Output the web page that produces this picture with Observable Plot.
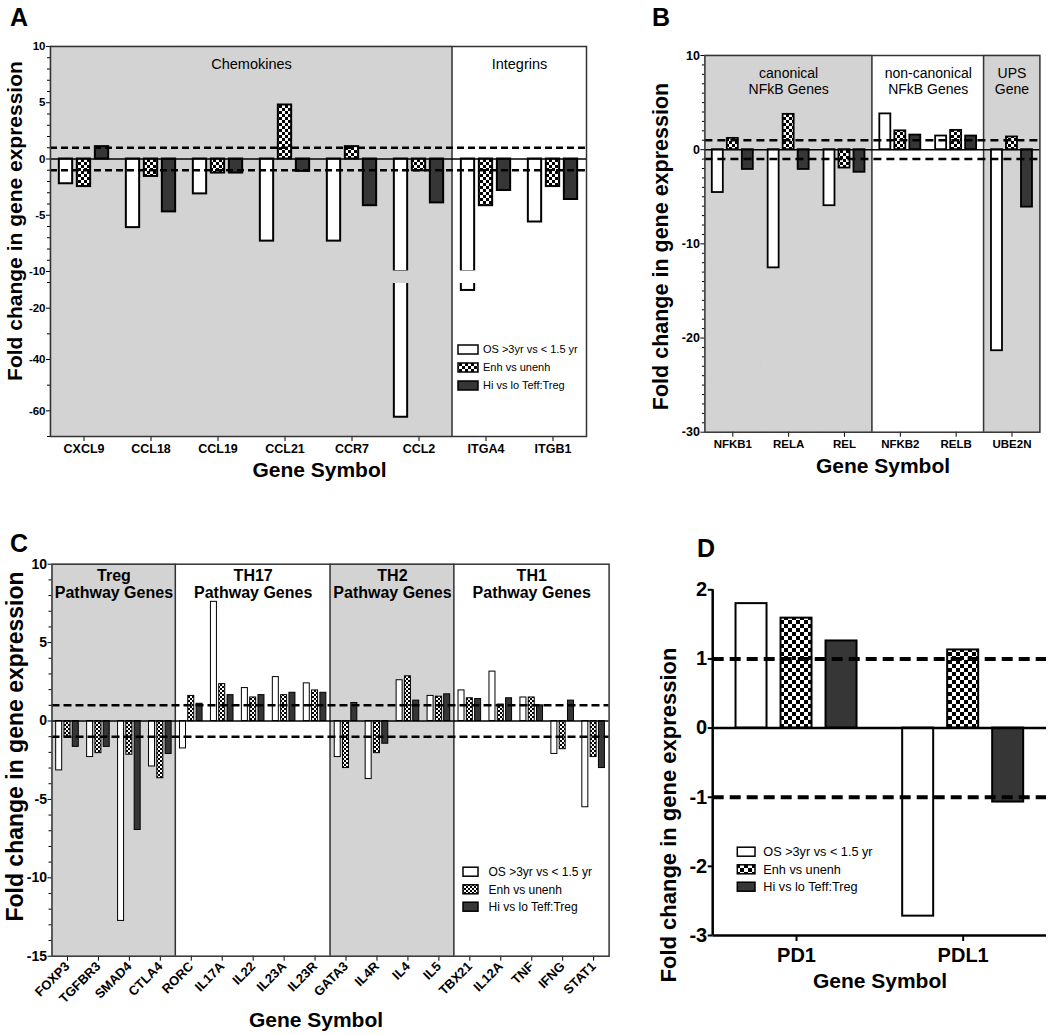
<!DOCTYPE html>
<html><head><meta charset="utf-8">
<script src="https://cdn.jsdelivr.net/npm/d3@7"></script>
<script src="https://cdn.jsdelivr.net/npm/@observablehq/plot@0.6"></script>
<style>
body{margin:0;background:#fff;}
#root{position:relative;width:1050px;height:1035px;overflow:hidden;background:#fff;}
</style></head><body><div id="root"></div>
<script>
// ---------------- DATA ----------------
const seriesNames = ["OS >3yr vs < 1.5 yr", "Enh vs unenh", "Hi vs lo Teff:Treg"];

// Panel A
const genesA = ["CXCL9","CCL18","CCL19","CCL21","CCR7","CCL2","ITGA4","ITGB1"];
const osA   = [-2.2, -6.1, -3.1, -7.3, -7.3, -62.5, -13.1, -5.6];
const enhA  = [-2.45, -1.55, -1.25, 4.8, 1.1, -1.05, -4.15, -2.45];
const hiloA = [1.1, -4.7, -1.25, -1.1, -4.15, -3.9, -2.8, -3.6];
const groupNamesA = ["Chemokines", "Integrins"];
const groupSizesA = [6, 2];
const groupShadedA = [true, false];
const yTicksA = [10, 5, 0, -5, -10, -20, -40, -60];

// Panel B
const genesB = ["NFKB1","RELA","REL","NFKB2","RELB","UBE2N"];
const osB   = [-4.55, -12.55, -5.95, 3.8, 1.45, -21.35];
const enhB  = [1.2, 3.75, -1.95, 2.0, 2.05, 1.35];
const hiloB = [-2.1, -2.1, -2.4, 1.55, 1.45, -6.1];
const groupNamesB = ["canonical\nNFkB Genes", "non-canonical\nNFkB Genes", "UPS\nGene"];
const groupSizesB = [3, 2, 1];
const groupShadedB = [true, false, true];
const yTicksB = [10, 0, -10, -20, -30];

// Panel C
const genesC = ["FOXP3","TGFBR3","SMAD4","CTLA4","RORC","IL17A","IL22","IL23A","IL23R","GATA3","IL4R","IL4","IL5","TBX21","IL12A","TNF","IFNG","STAT1"];
const osC   = [-3.15, -2.3, -12.75, -2.9, -1.75, 7.6, 2.1, 2.8, 2.4, -2.3, -3.7, 2.6, 1.6, 1.95, 3.15, 1.5, -2.1, -5.5];
const enhC  = [-1.0, -2.05, -2.15, -3.65, 1.6, 2.35, 1.5, 1.65, 1.95, -3.0, -2.05, 2.85, 1.55, 1.45, 1.05, 1.5, -1.8, -2.3];
const hiloC = [-1.65, -1.65, -6.95, -2.1, 1.1, 1.65, 1.65, 1.8, 1.8, 1.15, -1.45, 1.3, 1.7, 1.4, 1.45, 1.0, 1.3, -3.0];
const groupNamesC = ["Treg\nPathway Genes", "TH17\nPathway Genes", "TH2\nPathway Genes", "TH1\nPathway Genes"];
const groupSizesC = [4, 5, 4, 5];
const groupShadedC = [true, false, true, false];
const yTicksC = [10, 5, 0, -5, -10, -15];

// Panel D
const genesD = ["PD1","PDL1"];
const osD   = [1.8, -2.72];
const enhD  = [1.59, 1.13];
const hiloD = [1.26, -1.07];
const yTicksD = [2, 1, 0, -1, -2, -3];

// ---------------- DRAWING ----------------
const W = 1050, H = 1035;
const FONT = "Arial, 'Liberation Sans', Helvetica, sans-serif";
const GRAY = "#d3d3d3", DARK = "#363636", FRAME = "#333";
const root = document.getElementById("root");

function fillsFor(pat) { return ["white", `url(#${pat})`, DARK]; }

function buildPanel(o) {
  const n = o.genes.length;
  const bw = (o.width - o.mL - o.mR) / n;
  const inset = (bw - o.barW) / 2;
  const dom = o.y.domain;
  const ymin = dom[0], ymax = dom[dom.length - 1];
  const gIdx = [], starts = [];
  o.sizes.forEach((s, gi) => { starts.push(gIdx.length); for (let k = 0; k < s; k++) gIdx.push(gi); });
  const fills = fillsFor(o.pat);
  const marks = [];
  const shadedGenes = o.genes.filter((g, j) => o.shaded[gIdx[j]]);
  if (shadedGenes.length) marks.push(Plot.barY(shadedGenes, {x: d => d, y1: ymin, y2: ymax, fill: GRAY, stroke: GRAY, strokeWidth: 1}));
  const sepGenes = starts.slice(1).map(j => o.genes[j]);
  if (sepGenes.length) marks.push(Plot.barY(sepGenes, {x: d => d, y1: ymin, y2: ymax, fill: FRAME, insetLeft: 0, insetRight: bw - 1.5, dx: -0.75}));
  o.series.forEach((vals, i) => {
    const data = o.genes.map((g, j) => ({gene: g, v: vals[j], bg: !!o.shaded[gIdx[j]]}));
    const common = {x: "gene", fill: fills[i], stroke: "black", strokeWidth: o.sw, insetLeft: inset, insetRight: inset, dx: (i - 1) * o.pitch};
    if (!o.brk) {
      marks.push(Plot.barY(data, {...common, y1: 0, y2: "v"}));
    } else {
      marks.push(Plot.barY(data, {...common, y1: 0, y2: d => Math.max(d.v, o.brk.upper)}));
      const deep = data.filter(d => d.v < o.brk.upper);
      if (deep.length) {
        marks.push(Plot.barY(deep, {...common, y1: o.brk.lower, y2: "v"}));
        const cov = {x: "gene", y1: o.brk.c1, y2: o.brk.c2, insetLeft: inset - 2, insetRight: inset - 2, dx: (i - 1) * o.pitch};
        const dg = deep.filter(d => d.bg), dw = deep.filter(d => !d.bg);
        if (dg.length) marks.push(Plot.barY(dg, {...cov, fill: GRAY}));
        if (dw.length) marks.push(Plot.barY(dw, {...cov, fill: "white"}));
      }
    }
  });
  marks.push(Plot.ruleY([1, -1], {stroke: "black", strokeWidth: o.dashW, strokeDasharray: o.dash}));
  marks.push(Plot.ruleY([0], {stroke: "black", strokeWidth: o.zeroW}));
  o.groups.forEach((name, gi) => {
    if (!name) return;
    marks.push(Plot.text([{g: o.genes[starts[gi]], t: name}], {
      x: "g", text: "t", frameAnchor: "top", lineAnchor: "middle", dy: o.groupDy,
      dx: (o.sizes[gi] - 1) / 2 * bw, fontSize: o.groupFont, fontWeight: o.groupWeight,
      lineHeight: o.groupLH, fill: "black"
    }));
  });
  if (o.extra) marks.push(...o.extra(bw));
  if (o.yMinor.length) marks.push(Plot.axisY({ticks: o.yMinor, tickSize: o.yMinorSize, tickFormat: () => "", stroke: "black", strokeWidth: o.tickW, label: null}));
  marks.push(Plot.axisY({ticks: o.yMajor, tickSize: o.yTickSize, tickPadding: o.yPad, tickFormat: d => String(d),
    fontSize: o.yFont, fontWeight: "bold", fill: "black", stroke: "black", strokeWidth: o.tickW, label: null}));
  marks.push(Plot.axisX({tickSize: o.xTickSize, tickPadding: o.xPad, tickRotate: o.xRotate || 0,
    fontSize: o.xFont, fontWeight: "bold", fill: "black", stroke: "black", strokeWidth: o.tickW, label: null}));
  if (o.frame) marks.push(Plot.frame({stroke: FRAME, strokeWidth: 1.5}));
  const svg = Plot.plot({
    width: o.width, height: o.height,
    marginLeft: o.mL, marginRight: o.mR, marginTop: o.mT, marginBottom: o.mB,
    x: {type: "band", domain: o.genes, padding: 0, round: false},
    y: o.y,
    style: {fontFamily: FONT, background: "transparent", overflow: "visible", color: "black"},
    marks
  });
  svg.style.position = "absolute";
  svg.style.left = o.left + "px";
  svg.style.top = o.top + "px";
  svg.style.maxWidth = "none";
  root.appendChild(svg);
}

// overlay with pattern defs, panel letters, titles and legends
const ov = d3.create("svg").attr("width", W).attr("height", H)
  .style("position", "absolute").style("left", "0px").style("top", "0px")
  .style("font-family", FONT);
const defs = ov.append("defs");
[[2, "chk2"], [3, "chk3"], [4, "chk4"]].forEach(([s, id]) => {
  const p = defs.append("pattern").attr("id", id).attr("patternUnits", "userSpaceOnUse").attr("width", 2 * s).attr("height", 2 * s);
  p.append("rect").attr("width", 2 * s).attr("height", 2 * s).attr("fill", "white");
  p.append("rect").attr("width", s).attr("height", s).attr("fill", "black");
  p.append("rect").attr("x", s).attr("y", s).attr("width", s).attr("height", s).attr("fill", "black");
});
root.appendChild(ov.node());

const minorA = d3.range(-9, 10).filter(v => v % 5 !== 0).concat([-10.001, -30, -50, -70]);
buildPanel({
  left: 0, top: 0, width: 600, height: 500, mL: 50, mR: 14, mT: 46, mB: 64,
  genes: genesA, series: [osA, enhA, hiloA], groups: groupNamesA, sizes: groupSizesA, shaded: groupShadedA,
  y: {type: "linear", domain: [-70, -10.001, -10, 10], range: [436, 282, 271, 46]},
  brk: {upper: -10, lower: -10.001, c1: -9.95, c2: -10.4},
  pitch: 18, barW: 13.3, pat: "chk3", sw: 2, dash: "7,4", dashW: 2.5, zeroW: 1.5,
  groupFont: 14.5, groupWeight: "normal", groupDy: 17, groupLH: 1.15,
  yMajor: yTicksA, yMinor: minorA, yTickSize: 4, yMinorSize: 3, yPad: 1, yFont: 11.5, tickW: 1,
  xTickSize: 5, xPad: 2.5, xFont: 12.5, frame: true
});

buildPanel({
  left: 600, top: 0, width: 450, height: 500, mL: 104.4, mR: 10.6, mT: 55, mB: 68.3,
  genes: genesB, series: [osB, enhB, hiloB], groups: groupNamesB, sizes: groupSizesB, shaded: groupShadedB,
  y: {type: "linear", domain: [-30, 10]},
  pitch: 15, barW: 11, pat: "chk3", sw: 1.8, dash: "8,5", dashW: 2.5, zeroW: 1.5,
  groupFont: 14, groupWeight: "normal", groupDy: 25, groupLH: 1.19,
  yMajor: yTicksB, yMinor: d3.range(-29, 10).filter(v => v % 10 !== 0), yTickSize: 4, yMinorSize: 2.5, yPad: 1, yFont: 12.5, tickW: 1,
  xTickSize: 5, xPad: 2.2, xFont: 11.5, frame: true
});

buildPanel({
  left: 0, top: 520, width: 620, height: 515, mL: 51.5, mR: 11.4, mT: 43.7, mB: 79.3,
  genes: genesC, series: [osC, enhC, hiloC], groups: groupNamesC, sizes: groupSizesC, shaded: groupShadedC,
  y: {type: "linear", domain: [-15, 10]},
  pitch: 8.3, barW: 6, pat: "chk2", sw: 1, dash: "8,4", dashW: 2.5, zeroW: 1.5,
  groupFont: 16, groupWeight: "bold", groupDy: 19.6, groupLH: 1.05,
  yMajor: yTicksC, yMinor: d3.range(-14, 10).filter(v => v % 5 !== 0), yTickSize: 4, yMinorSize: 3, yPad: 1, yFont: 14, tickW: 1,
  xTickSize: 5, xPad: 3, xFont: 13, xRotate: -45, frame: true
});

buildPanel({
  left: 680, top: 560, width: 370, height: 475, mL: 32.7, mR: 4, mT: 29.3, mB: 100,
  genes: genesD, series: [osD, enhD, hiloD], groups: [""], sizes: [2], shaded: [false],
  y: {type: "linear", domain: [-3, 2]},
  pitch: 45, barW: 31, pat: "chk4", sw: 2, dash: "11,6", dashW: 4, zeroW: 2.5,
  groupFont: 14, groupWeight: "normal", groupDy: 0, groupLH: 1,
  yMajor: yTicksD, yMinor: [], yTickSize: 5, yMinorSize: 0, yPad: 1, yFont: 20, tickW: 2,
  xTickSize: 6, xPad: 6, xFont: 20, frame: false,
  extra: (bw) => [
    Plot.ruleY([-3], {stroke: "black", strokeWidth: 2.5}),
    Plot.barY([genesD[0]], {x: d => d, y1: -3, y2: 2, fill: "black", insetLeft: 0, insetRight: bw - 2.5, dx: -1.25})
  ]
});

// texts in overlay (on top)
const tg = ov.append("g");
function letter(x, y, s) { tg.append("text").attr("x", x).attr("y", y).attr("font-size", 25).attr("font-weight", "bold").text(s); }
function vtitle(cx, cy, fs) {
  tg.append("text").attr("transform", `translate(${cx},${cy}) rotate(-90)`).attr("text-anchor", "middle")
    .attr("dy", "0.26em").attr("font-size", fs).attr("font-weight", "bold").text("Fold change in gene expression");
}
function xtitle(cx, cy) {
  tg.append("text").attr("x", cx).attr("y", cy).attr("text-anchor", "middle").attr("dy", "0.25em")
    .attr("font-size", 21).attr("font-weight", "bold").text("Gene Symbol");
}
function legend({x, rows, w, h, tx, fs, pat}) {
  const fills = fillsFor(pat);
  seriesNames.forEach((name, i) => {
    tg.append("rect").attr("x", x).attr("y", rows[i] - h / 2).attr("width", w).attr("height", h)
      .attr("fill", fills[i]).attr("stroke", "black").attr("stroke-width", 1.5);
    tg.append("text").attr("x", tx).attr("y", rows[i]).attr("dy", "0.35em").attr("font-size", fs).text(name);
  });
}
letter(10, 26, "A"); letter(652, 26, "B"); letter(10, 552, "C"); letter(697, 557, "D");
vtitle(17, 221, 21); vtitle(662.5, 246.5, 21.5); vtitle(17.2, 746.5, 23); vtitle(670, 815, 22);
xtitle(319.5, 472); xtitle(883, 468); xtitle(316, 1021.7); xtitle(880, 983);
legend({x: 458, rows: [349.5, 367.5, 385.5], w: 20, h: 9, tx: 483, fs: 11, pat: "chk3"});
legend({x: 720.7, rows: [342.3, 359.7, 377], w: 17.6, h: 8.5, tx: 746.7, fs: 12.5, pat: "chk3"});
legend({x: 463, rows: [871.7, 889.3, 906.7], w: 15, h: 9, tx: 488.5, fs: 12, pat: "chk2"});
legend({x: 737.3, rows: [851.7, 869.3, 886.7], w: 17.7, h: 9, tx: 763.3, fs: 12.7, pat: "chk4"});
</script></body></html>
